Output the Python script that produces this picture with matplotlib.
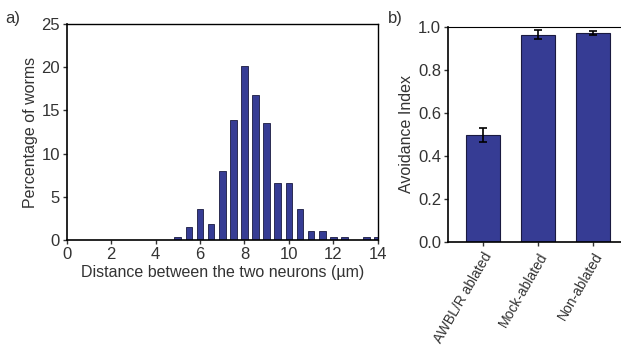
import numpy as np
import matplotlib.pyplot as plt

plt.rcParams['font.family'] = ['Liberation Sans', 'DejaVu Sans']

# panel a: distance histogram
distance = [5, 5.5, 6, 6.5, 7, 7.5, 8, 8.5, 9, 9.5, 10, 10.5, 11, 11.5, 12, 12.5, 13.5, 14]
percent = [0.4, 1.5, 3.6, 1.8, 8.0, 13.9, 20.1, 16.8, 13.5, 6.6, 6.6, 3.6, 1.1, 1.1, 0.4, 0.4, 0.4, 0.4]

# panel b: avoidance index
groups = ['AWBL/R ablated', 'Mock-ablated', 'Non-ablated']
avoidance = [0.498, 0.963, 0.972]
avoid_err = [0.032, 0.022, 0.008]

bar_col = '#363c94'
edge_col = '#1a1a40'
txt_col = '#333333'

fig = plt.figure(figsize=(6.21, 3.48), dpi=100)

ax1 = fig.add_axes([0.1074, 0.3103, 0.501, 0.6207])
ax1.bar(distance, percent, width=0.3, color=bar_col, edgecolor=edge_col, linewidth=0.6, clip_on=True)
ax1.set_xlim(0, 14)
ax1.set_ylim(0, 25)
ax1.set_xticks(range(0, 15, 2))
ax1.set_yticks(range(0, 26, 5))
ax1.set_xlabel('Distance between the two neurons (µm)', fontsize=11.5, color=txt_col, labelpad=2)
ax1.set_ylabel('Percentage of worms', fontsize=11.5, color=txt_col, labelpad=2)
ax1.spines['left'].set_linewidth(1.2)
ax1.spines['bottom'].set_linewidth(1.2)
ax1.spines['top'].set_linewidth(1.0)
ax1.spines['right'].set_linewidth(1.0)
ax1.tick_params(labelsize=12, colors=txt_col, length=3, width=1, pad=2)

ax2 = fig.add_axes([0.7214, 0.3046, 0.2786, 0.6184])
pos = np.arange(len(groups))
ax2.bar(pos, avoidance, width=0.62, color=bar_col, edgecolor=edge_col, linewidth=0.8,
        yerr=avoid_err, capsize=3, error_kw=dict(ecolor='black', elinewidth=1.2, capthick=1.2))
ax2.set_xlim(-0.63, 2.5)
ax2.set_ylim(0, 1.0)
ax2.set_yticks(np.arange(0, 1.01, 0.2))
ax2.set_yticklabels(['%.1f' % v for v in np.arange(0, 1.01, 0.2)])
ax2.set_xticks(pos)
ax2.set_xticklabels(groups, rotation=60, ha='right', rotation_mode='anchor', fontsize=10)
ax2.set_ylabel('Avoidance Index', fontsize=11.5, color=txt_col, labelpad=3)
ax2.spines['right'].set_visible(False)
ax2.spines['left'].set_linewidth(1.2)
ax2.spines['bottom'].set_linewidth(1.2)
ax2.tick_params(axis='y', labelsize=12, colors=txt_col, length=3, width=1, pad=2)
ax2.tick_params(axis='x', colors=txt_col, length=3, width=1, pad=3)

fig.text(0.008, 0.935, 'a)', fontsize=12, color=txt_col)
fig.text(0.624, 0.935, 'b)', fontsize=12, color=txt_col)

fig.savefig('out.png', dpi=100)
